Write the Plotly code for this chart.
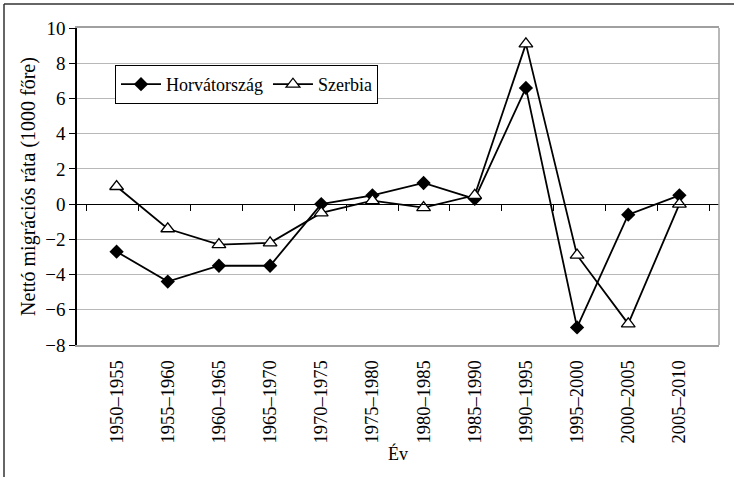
import plotly.graph_objects as go

# adatok
periods = ["1950–1955", "1955–1960", "1960–1965", "1965–1970", "1970–1975", "1975–1980",
           "1980–1985", "1985–1990", "1990–1995", "1995–2000", "2000–2005", "2005–2010"]
horvatorszag = [-2.7, -4.4, -3.5, -3.5, 0.0, 0.5, 1.2, 0.3, 6.6, -7.0, -0.6, 0.5]
szerbia = [1.0, -1.4, -2.3, -2.2, -0.5, 0.2, -0.2, 0.5, 9.1, -2.9, -6.8, 0.0]

FONT = "Liberation Serif"

fig = go.Figure()
fig.add_trace(go.Scatter(
    x=periods, y=horvatorszag, name="Horvátország", mode="lines+markers",
    line=dict(color="black", width=1.8),
    marker=dict(symbol="diamond", size=11, color="black"),
))
fig.add_trace(go.Scatter(
    x=periods, y=szerbia, name="Szerbia", mode="lines+markers",
    line=dict(color="black", width=1.8),
    marker=dict(symbol="triangle-up", size=12, color="white", line=dict(color="black", width=1.3)),
))

# x tengely a 0-nál (csak vonal + osztások)
fig.add_trace(go.Scatter(x=periods, y=[None] * len(periods), xaxis="x2", showlegend=False, hoverinfo="skip"))

L, R, T, B = 77, 15, 28, 132
W, H = 734, 477
pw, ph = W - L - R, H - T - B

fig.update_layout(
    width=W, height=H,
    margin=dict(l=L, r=R, t=T, b=B),
    paper_bgcolor="white", plot_bgcolor="white",
    font=dict(family=FONT, size=18, color="black"),
    showlegend=True,
    legend=dict(
        orientation="h", x=(115 - L) / pw, y=(345 - 65) / ph, xanchor="left", yanchor="top",
        bordercolor="black", borderwidth=1, bgcolor="white",
        font=dict(family=FONT, size=18), tracegroupgap=0, itemwidth=40,
    ),
    xaxis=dict(
        type="category", tickangle=-90, showgrid=False,
        showline=True, linecolor="#a0a0a0", linewidth=1.5, mirror=True,
        ticks="", ticklabelstandoff=6,
        tickfont=dict(family=FONT, size=18.5),
    ),
    xaxis2=dict(
        type="category", overlaying="x", anchor="free", position=8 / 18,
        showline=True, linecolor="black", linewidth=1.3,
        ticks="outside", tickson="boundaries", ticklen=6, tickcolor="black",
        showticklabels=False, showgrid=False, side="bottom",
    ),
    yaxis=dict(
        range=[-8, 10], dtick=2, tickmode="linear",
        showgrid=True, gridcolor="#b8b8b8", gridwidth=1.3,
        zeroline=False,
        showline=True, linecolor="black", linewidth=1.5,
        ticks="outside", ticklen=6, tickcolor="black",
        title=dict(text="Nettó migrációs ráta (1000 főre)", font=dict(family=FONT, size=20), standoff=4),
        tickfont=dict(family=FONT, size=19),
    ),
    annotations=[
        dict(text="Év", xref="paper", yref="paper", x=0.5, y=(345 - 453) / ph,
             xanchor="center", yanchor="middle", showarrow=False, font=dict(family=FONT, size=18)),
    ],
    shapes=[
        # külső keret
        dict(type="line", xref="paper", yref="paper",
             x0=(4 - L) / pw, x1=(W + 5 - L) / pw, y0=(H - B - 4) / ph, y1=(H - B - 4) / ph,
             line=dict(color="#333333", width=1.5)),
        dict(type="line", xref="paper", yref="paper",
             x0=(4 - L) / pw, x1=(4 - L) / pw, y0=-(B + 5) / ph, y1=(H - B - 4) / ph,
             line=dict(color="#333333", width=1.5)),
        # jobb oldali szürke keret
        dict(type="line", xref="paper", yref="paper", x0=1, x1=1, y0=0, y1=1,
             line=dict(color="#a0a0a0", width=1.5)),
    ],
)

fig.write_html("out.html", config={"displayModeBar": False},
               post_script="document.body.style.margin='0';")
